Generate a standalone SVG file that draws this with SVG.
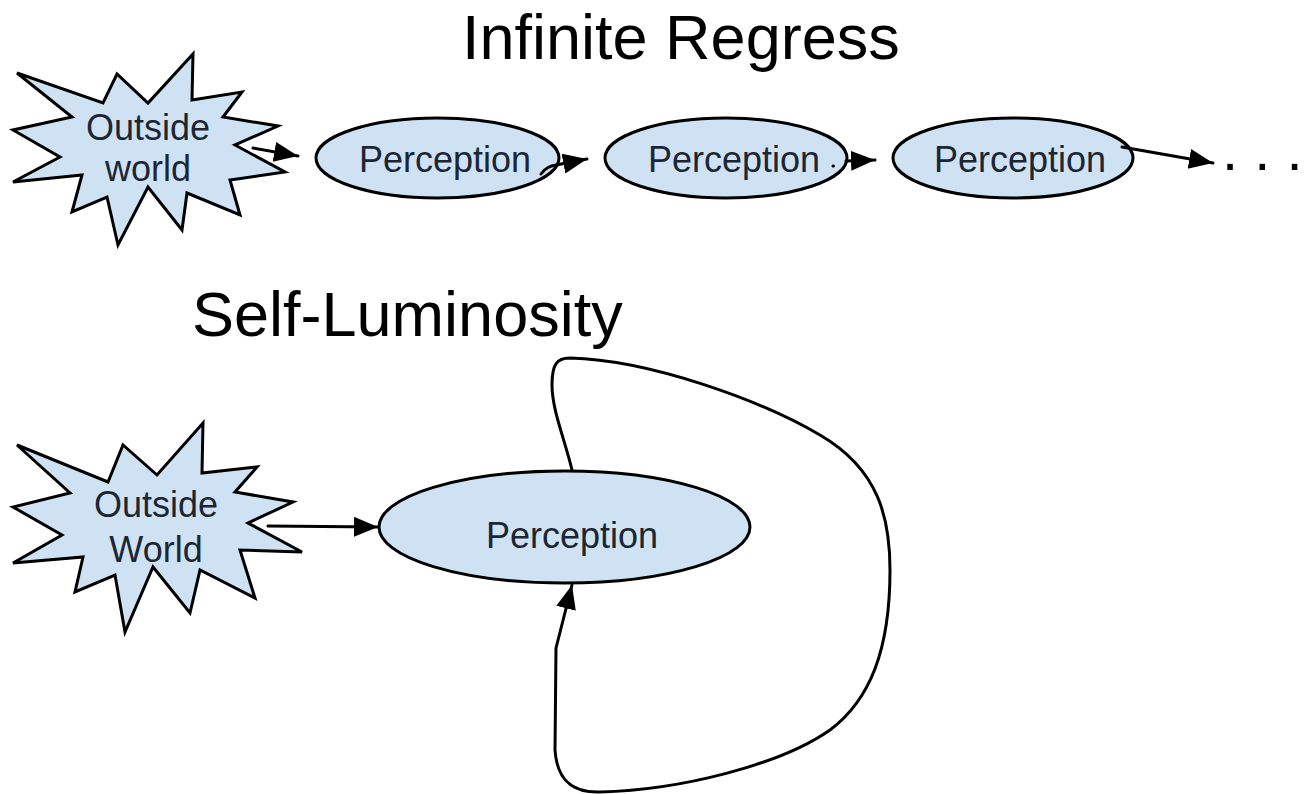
<svg xmlns="http://www.w3.org/2000/svg" width="1309" height="794" viewBox="0 0 1309 794">
<style>
.shape{fill:#cfe2f3;stroke:#000;stroke-width:3;stroke-linejoin:miter}
.lbl{font-family:"Liberation Sans",Arial,sans-serif;font-size:36px;fill:#1c2633;text-anchor:middle}
.title{font-family:"Liberation Sans",Arial,sans-serif;font-size:63px;fill:#000}
.conn{fill:none;stroke:#000;stroke-width:3;stroke-linecap:round;stroke-linejoin:round}
</style>
<defs>
<marker id="ah" markerUnits="userSpaceOnUse" markerWidth="26" markerHeight="22" refX="24" refY="10" orient="auto">
<path d="M0,0 L24,10 L0,20 z" fill="#000"/>
</marker>
</defs>
<rect width="1309" height="794" fill="#fff"/>
<text class="title" x="462" y="59">Infinite Regress</text>
<text class="title" x="192" y="336">Self-Luminosity</text>

<g id="star-top">
<polygon class="shape" points="17,73 103,103 117,74 148,103 193,54 192,100 242,92 223,117 278,126 235,145 285,172 230,180 240,215 187,193 182,230 148,187 118,245 107,197 72,212 82,175 13,182 60,157 13,130 72,117"/>
<text class="lbl" x="148" y="140">Outside</text>
<text class="lbl" x="148" y="181">world</text>
</g>
<g id="perc1">
<ellipse class="shape" cx="437.5" cy="158" rx="121.5" ry="40"/>
<text class="lbl" x="445" y="172">Perception</text>
</g>
<g id="perc2">
<ellipse class="shape" cx="726" cy="158" rx="121" ry="40"/>
<text class="lbl" x="734" y="172">Perception</text>
</g>
<g id="perc3">
<ellipse class="shape" cx="1013" cy="158" rx="120" ry="40"/>
<text class="lbl" x="1020" y="172">Perception</text>
</g>
<g id="dots">
<text class="title" x="1222" y="170" style="font-size:58px">. . .</text>
</g>

<g id="star-bottom">
<polygon class="shape" points="17,445 108,482 123,445 157,475 203,423 202,473 257,467 235,492 293,502 248,523 302,552 240,550 255,598 200,570 190,613 153,567 125,632 115,575 75,592 83,557 13,563 62,535 13,507 70,493"/>
<text class="lbl" x="156" y="517">Outside</text>
<text class="lbl" x="156" y="562">World</text>
</g>
<g id="perc-self">
<ellipse class="shape" cx="564.5" cy="527" rx="185.5" ry="56"/>
<text class="lbl" x="572" y="548">Perception</text>
</g>

<g id="connectors">
<path class="conn" d="M253,148 L298,156" marker-end="url(#ah)"/>
<path class="conn" d="M541,174 C546,167 551,166 556,165 L587,159" marker-end="url(#ah)"/>
<path class="conn" d="M833,166 L833.5,166 M846,161 L875,160" marker-end="url(#ah)"/>
<path class="conn" d="M1122,147 L1213,163" marker-end="url(#ah)"/>
<path class="conn" d="M268,526 L378,527" marker-end="url(#ah)"/>
<path class="conn" d="M572,470 C565,440 552,410 552,385 C552,364 557,358 570,358 C650,360 760,400 820,435 C880,470 890,520 890,570 C890,650 870,700 830,730 C780,765 680,790 600,792 C572,793 557,780 555,750 L556,648 L572,585" marker-end="url(#ah)"/>
</g>
</svg>
